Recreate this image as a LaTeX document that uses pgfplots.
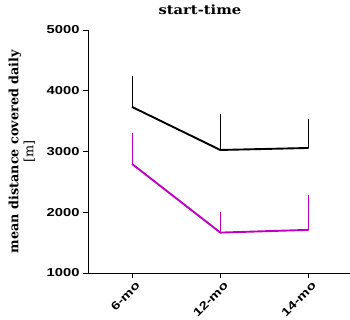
\documentclass[border=0pt]{standalone}
\usepackage{fontspec}
\setmainfont{DejaVu Serif}
\newfontfamily\titleserif[FakeStretch=1.15]{DejaVu Serif}
\newfontfamily\ticksans[FakeStretch=1.28]{Liberation Sans}
\usepackage{pgfplots}
\pgfplotsset{compat=1.18}
\definecolor{magentaline}{RGB}{192,0,192}

\begin{document}
\begin{tikzpicture}
\useasboundingbox (-88pt,-47pt) rectangle (262pt,273pt);
\begin{axis}[
  at={(0,0)}, anchor=south west,
  scale only axis,
  width=262pt, height=243pt,
  xmin=-0.5, xmax=2.47,
  ymin=1000, ymax=5000,
  axis x line=bottom, axis y line=left,
  axis line style={-, line width=0.9pt},
  xtick={0,1,2},
  xticklabels={6-mo,12-mo,14-mo},
  ytick={1000,2000,3000,4000,5000},
  tick align=outside,
  major tick length=5pt,
  tick style={line width=0.9pt, black},
  /pgf/number format/assume math mode=true,
  yticklabel style={font=\ticksans\bfseries\fontsize{11.5}{13}\selectfont, /pgf/number format/1000 sep={}},
  xticklabel style={font=\ticksans\bfseries\fontsize{11.5}{13}\selectfont, rotate=45, anchor=east, inner sep=1pt, yshift=-8pt, xshift=1pt},
  title={start-time},
  title style={font=\titleserif\bfseries\fontsize{12.8}{15}\selectfont, at={(axis description cs:0.427,1)}, anchor=south, yshift=6pt},
  ylabel={{\bfseries mean distance covered daily}\\{[m]}},
  ylabel style={font=\fontsize{12.8}{15}\selectfont, align=center, at={(axis description cs:-0.252,0.5)}, anchor=center},
  clip=false,
]
% older animals
\addplot[black, line width=1.9pt, mark=none,
  error bars/.cd, y dir=plus, y explicit, error mark=none,
  error bar style={line width=1.1pt, black}]
  coordinates {(0,3733) +- (0,510) (1,3025) +- (0,592) (2,3058) +- (0,477)};
% younger animals
\addplot[magentaline, line width=1.9pt, mark=none,
  error bars/.cd, y dir=plus, y explicit, error mark=none,
  error bar style={line width=1.1pt, magentaline}]
  coordinates {(0,2794) +- (0,511) (1,1665) +- (0,339) (2,1710) +- (0,574)};
\end{axis}
\end{tikzpicture}
\end{document}
